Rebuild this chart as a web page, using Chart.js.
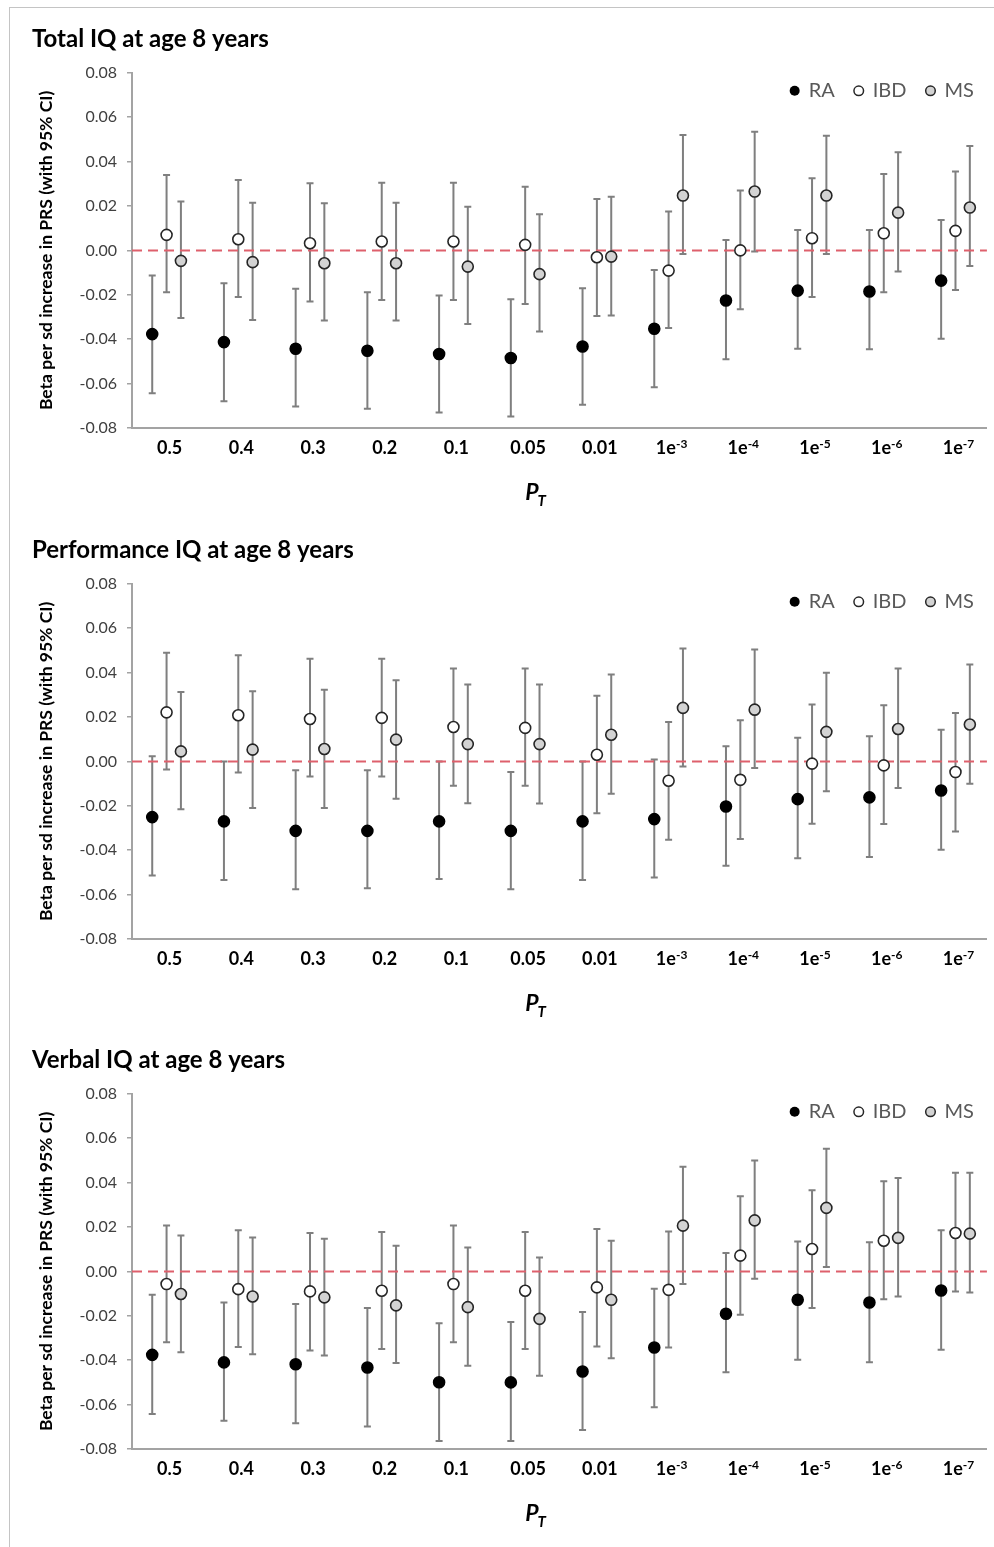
<!DOCTYPE html>
<html>
<head>
<meta charset="utf-8">
<title>PRS and IQ at age 8</title>
<script src="https://cdn.jsdelivr.net/npm/chart.js@4.4.0/dist/chart.umd.min.js"></script>
<style>
  body { margin: 0; background: #fff; }
  #frame { position: absolute; left: 9px; top: 7px; width: 990px; height: 1545px;
           border-left: 1px solid #c4c4c4; border-top: 1px solid #c4c4c4; }
  .panel { position: absolute; left: 0; width: 994px; height: 510px; }
</style>
</head>
<body>
<div id="frame"></div>
<div class="panel" style="top:10px"><canvas id="total" width="994" height="510"></canvas></div>
<div class="panel" style="top:521px"><canvas id="perf" width="994" height="510"></canvas></div>
<div class="panel" style="top:1031px"><canvas id="verbal" width="994" height="510"></canvas></div>
<script>
// P-value thresholds (x categories)
const thresholds = ['0.5', '0.4', '0.3', '0.2', '0.1', '0.05', '0.01', '1e-3', '1e-4', '1e-5', '1e-6', '1e-7'];
const seriesNames = ['RA', 'IBD', 'MS'];

// Total IQ  - beta, lower and upper 95% CI
const totalRA    = [-0.0377, -0.0413, -0.0443, -0.0452, -0.0467, -0.0485, -0.0433, -0.0353, -0.0226, -0.0181, -0.0185, -0.0136];
const totalRALo  = [-0.0643, -0.0680, -0.0703, -0.0713, -0.0730, -0.0748, -0.0695, -0.0617, -0.0490, -0.0443, -0.0445, -0.0398];
const totalRAHi  = [-0.0113, -0.0148, -0.0173, -0.0188, -0.0203, -0.0220, -0.0170, -0.0088, 0.0047, 0.0092, 0.0092, 0.0137];
const totalIBD   = [0.0070, 0.0050, 0.0032, 0.0040, 0.0040, 0.0025, -0.0031, -0.0091, 0.0000, 0.0055, 0.0077, 0.0088];
const totalIBDLo = [-0.0188, -0.0210, -0.0230, -0.0223, -0.0223, -0.0241, -0.0295, -0.0350, -0.0265, -0.0210, -0.0188, -0.0178];
const totalIBDHi = [0.0340, 0.0317, 0.0302, 0.0305, 0.0305, 0.0287, 0.0232, 0.0175, 0.0270, 0.0325, 0.0344, 0.0355];
const totalMS    = [-0.0047, -0.0053, -0.0058, -0.0058, -0.0073, -0.0107, -0.0028, 0.0247, 0.0265, 0.0247, 0.0170, 0.0193];
const totalMSLo  = [-0.0305, -0.0313, -0.0316, -0.0316, -0.0331, -0.0365, -0.0293, -0.0016, -0.0005, -0.0016, -0.0095, -0.0070];
const totalMSHi  = [0.0220, 0.0215, 0.0212, 0.0215, 0.0197, 0.0163, 0.0242, 0.0520, 0.0535, 0.0517, 0.0442, 0.0470];

// Performance IQ
const perfRA    = [-0.0251, -0.0270, -0.0313, -0.0313, -0.0270, -0.0313, -0.0270, -0.0260, -0.0203, -0.0170, -0.0162, -0.0131];
const perfRALo  = [-0.0514, -0.0534, -0.0576, -0.0571, -0.0530, -0.0576, -0.0534, -0.0523, -0.0470, -0.0436, -0.0431, -0.0398];
const perfRAHi  = [0.0023, 0.0000, -0.0040, -0.0040, 0.0000, -0.0048, 0.0000, 0.0008, 0.0068, 0.0106, 0.0113, 0.0143];
const perfIBD   = [0.0221, 0.0208, 0.0191, 0.0196, 0.0155, 0.0151, 0.0030, -0.0087, -0.0083, -0.0010, -0.0018, -0.0048];
const perfIBDLo = [-0.0037, -0.0050, -0.0068, -0.0068, -0.0110, -0.0110, -0.0233, -0.0353, -0.0350, -0.0281, -0.0282, -0.0316];
const perfIBDHi = [0.0489, 0.0478, 0.0462, 0.0462, 0.0418, 0.0418, 0.0296, 0.0178, 0.0185, 0.0256, 0.0253, 0.0218];
const perfMS    = [0.0045, 0.0053, 0.0056, 0.0098, 0.0078, 0.0078, 0.0120, 0.0241, 0.0233, 0.0133, 0.0146, 0.0166];
const perfMSLo  = [-0.0215, -0.0210, -0.0210, -0.0168, -0.0188, -0.0190, -0.0146, -0.0023, -0.0030, -0.0135, -0.0120, -0.0101];
const perfMSHi  = [0.0313, 0.0316, 0.0323, 0.0365, 0.0346, 0.0346, 0.0391, 0.0508, 0.0504, 0.0399, 0.0418, 0.0436];

// Verbal IQ
const verbRA    = [-0.0376, -0.0410, -0.0418, -0.0433, -0.0499, -0.0500, -0.0451, -0.0343, -0.0191, -0.0128, -0.0140, -0.0086];
const verbRALo  = [-0.0642, -0.0673, -0.0684, -0.0699, -0.0764, -0.0764, -0.0714, -0.0612, -0.0454, -0.0398, -0.0409, -0.0353];
const verbRAHi  = [-0.0105, -0.0140, -0.0147, -0.0165, -0.0233, -0.0228, -0.0183, -0.0078, 0.0083, 0.0135, 0.0131, 0.0185];
const verbIBD   = [-0.0057, -0.0080, -0.0090, -0.0087, -0.0057, -0.0087, -0.0072, -0.0083, 0.0071, 0.0101, 0.0138, 0.0173];
const verbIBDLo = [-0.0319, -0.0341, -0.0356, -0.0350, -0.0319, -0.0349, -0.0338, -0.0343, -0.0195, -0.0165, -0.0125, -0.0090];
const verbIBDHi = [0.0207, 0.0185, 0.0173, 0.0178, 0.0207, 0.0178, 0.0191, 0.0180, 0.0338, 0.0365, 0.0406, 0.0444];
const verbMS    = [-0.0102, -0.0113, -0.0117, -0.0153, -0.0161, -0.0214, -0.0128, 0.0206, 0.0230, 0.0286, 0.0151, 0.0170];
const verbMSLo  = [-0.0364, -0.0373, -0.0379, -0.0413, -0.0425, -0.0470, -0.0391, -0.0057, -0.0033, 0.0020, -0.0113, -0.0095];
const verbMSHi  = [0.0162, 0.0153, 0.0147, 0.0116, 0.0108, 0.0063, 0.0138, 0.0471, 0.0499, 0.0553, 0.0421, 0.0444];

// styling
const offsets = [-0.2, 0, 0.2];
const fills = ['#000000', '#ffffff', '#d3d3d3'];
const strokes = ['#000000', '#262626', '#262626'];
const axisGrey = '#a3a3a3';
const FONT = 'Lato';

// error bars, zero line, custom x labels, P_T and legend
const decor = {
  id: 'decor',
  beforeDatasetsDraw(chart, args, opts) {
    const ctx = chart.ctx, y = chart.scales.y, area = chart.chartArea;
    ctx.save();
    ctx.strokeStyle = '#7f7f7f';
    ctx.lineWidth = 2;
    chart.data.datasets.forEach((ds, k) => {
      chart.getDatasetMeta(k).data.forEach((pt, i) => {
        const y1 = y.getPixelForValue(opts.lo[k][i]);
        const y2 = y.getPixelForValue(opts.hi[k][i]);
        ctx.beginPath();
        ctx.moveTo(pt.x, y1); ctx.lineTo(pt.x, y2);
        ctx.moveTo(pt.x - 3.5, y1); ctx.lineTo(pt.x + 3.5, y1);
        ctx.moveTo(pt.x - 3.5, y2); ctx.lineTo(pt.x + 3.5, y2);
        ctx.stroke();
      });
    });
    // dashed reference line at 0
    const y0 = y.getPixelForValue(0);
    ctx.strokeStyle = 'rgb(222, 96, 108)';
    ctx.lineWidth = 2;
    ctx.setLineDash([10, 6]);
    ctx.beginPath();
    ctx.moveTo(area.left, y0); ctx.lineTo(area.right, y0);
    ctx.stroke();
    ctx.restore();
  },
  afterDraw(chart) {
    const ctx = chart.ctx, x = chart.scales.x, area = chart.chartArea;
    ctx.save();
    ctx.fillStyle = '#000';
    ctx.textBaseline = 'alphabetic';
    const by = area.bottom + 26;
    thresholds.forEach((lab, i) => {
      const cx = x.getPixelForValue(i) + 3;
      const m = lab.match(/^(1e)(-\d)$/);
      if (m) {
        ctx.font = 'bold 18px ' + FONT;
        const w1 = ctx.measureText(m[1]).width;
        ctx.font = 'bold 12px ' + FONT;
        const w2 = ctx.measureText(m[2]).width;
        const sx = cx - (w1 + w2) / 2;
        ctx.font = 'bold 18px ' + FONT;
        ctx.fillText(m[1], sx, by);
        ctx.font = 'bold 12px ' + FONT;
        ctx.fillText(m[2], sx + w1, by - 6);
      } else {
        ctx.font = 'bold 18px ' + FONT;
        ctx.textAlign = 'center';
        ctx.fillText(lab, cx, by);
        ctx.textAlign = 'left';
      }
    });
    // axis title P_T
    const px = x.getPixelForValue(5);
    ctx.font = 'italic bold 23px ' + FONT;
    ctx.fillText('P', px, area.bottom + 72);
    const pw = ctx.measureText('P').width;
    ctx.font = 'italic bold 15px ' + FONT;
    ctx.fillText('T', px + pw - 1, area.bottom + 78);

    // legend inside the plot, top right
    ctx.font = '20px ' + FONT;
    ctx.textBaseline = 'middle';
    const ly = area.top + 18;
    let right = area.right - 13;
    for (let k = seriesNames.length - 1; k >= 0; k--) {
      const w = ctx.measureText(seriesNames[k]).width;
      ctx.fillStyle = '#595959';
      ctx.fillText(seriesNames[k], right - w, ly);
      const cx = right - w - 14;
      ctx.beginPath();
      ctx.arc(cx, ly, k === 0 ? 5 : 4.8, 0, Math.PI * 2);
      ctx.fillStyle = fills[k];
      ctx.fill();
      if (k > 0) { ctx.lineWidth = 1.5; ctx.strokeStyle = strokes[k]; ctx.stroke(); }
      right = cx - 24;
    }
    ctx.restore();
  }
};

function makeChart(id, title, est, lo, hi) {
  const datasets = seriesNames.map((name, k) => ({
    label: name,
    data: est[k].map((v, i) => ({ x: i + offsets[k], y: v })),
    pointRadius: 5.5,
    pointBorderWidth: 1.6,
    pointBackgroundColor: fills[k],
    pointBorderColor: strokes[k],
    showLine: false
  }));
  return new Chart(document.getElementById(id), {
    type: 'scatter',
    data: { datasets },
    plugins: [decor],
    options: {
      responsive: false,
      animation: false,
      events: [],
      layout: { padding: { left: 32, right: 2, top: 0, bottom: 0 } },
      plugins: {
        legend: { display: false },
        tooltip: { enabled: false },
        title: {
          display: true, text: title, align: 'start', color: '#000',
          font: { family: FONT, size: 24, weight: 'bold' },
          padding: { top: 15, bottom: 19 }
        },
        decor: { lo, hi }
      },
      scales: {
        x: {
          type: 'linear', min: -0.482, max: 11.438,
          ticks: { display: false },
          grid: { display: false },
          border: { display: true, color: axisGrey, width: 2 },
          afterFit(s) { s.height = 92; }
        },
        y: {
          min: -0.08, max: 0.08,
          ticks: {
            stepSize: 0.02, padding: 10, color: '#404040',
            font: { family: FONT, size: 16 },
            callback: v => v.toFixed(2)
          },
          grid: { drawOnChartArea: false, drawTicks: true, tickLength: 5, color: axisGrey, lineWidth: 1.5 },
          border: { display: true, color: axisGrey, width: 2 },
          title: {
            display: true, text: 'Beta per sd increase in PRS (with 95% CI)', color: '#000',
            font: { family: FONT, size: 17.5, weight: 'bold' },
            padding: { top: 4, bottom: 0 }
          },
          afterFit(s) { s.width = 100; }
        }
      }
    }
  });
}

makeChart('total', 'Total IQ at age 8 years',
  [totalRA, totalIBD, totalMS], [totalRALo, totalIBDLo, totalMSLo], [totalRAHi, totalIBDHi, totalMSHi]);
makeChart('perf', 'Performance IQ at age 8 years',
  [perfRA, perfIBD, perfMS], [perfRALo, perfIBDLo, perfMSLo], [perfRAHi, perfIBDHi, perfMSHi]);
makeChart('verbal', 'Verbal IQ at age 8 years',
  [verbRA, verbIBD, verbMS], [verbRALo, verbIBDLo, verbMSLo], [verbRAHi, verbIBDHi, verbMSHi]);
</script>
</body>
</html>
